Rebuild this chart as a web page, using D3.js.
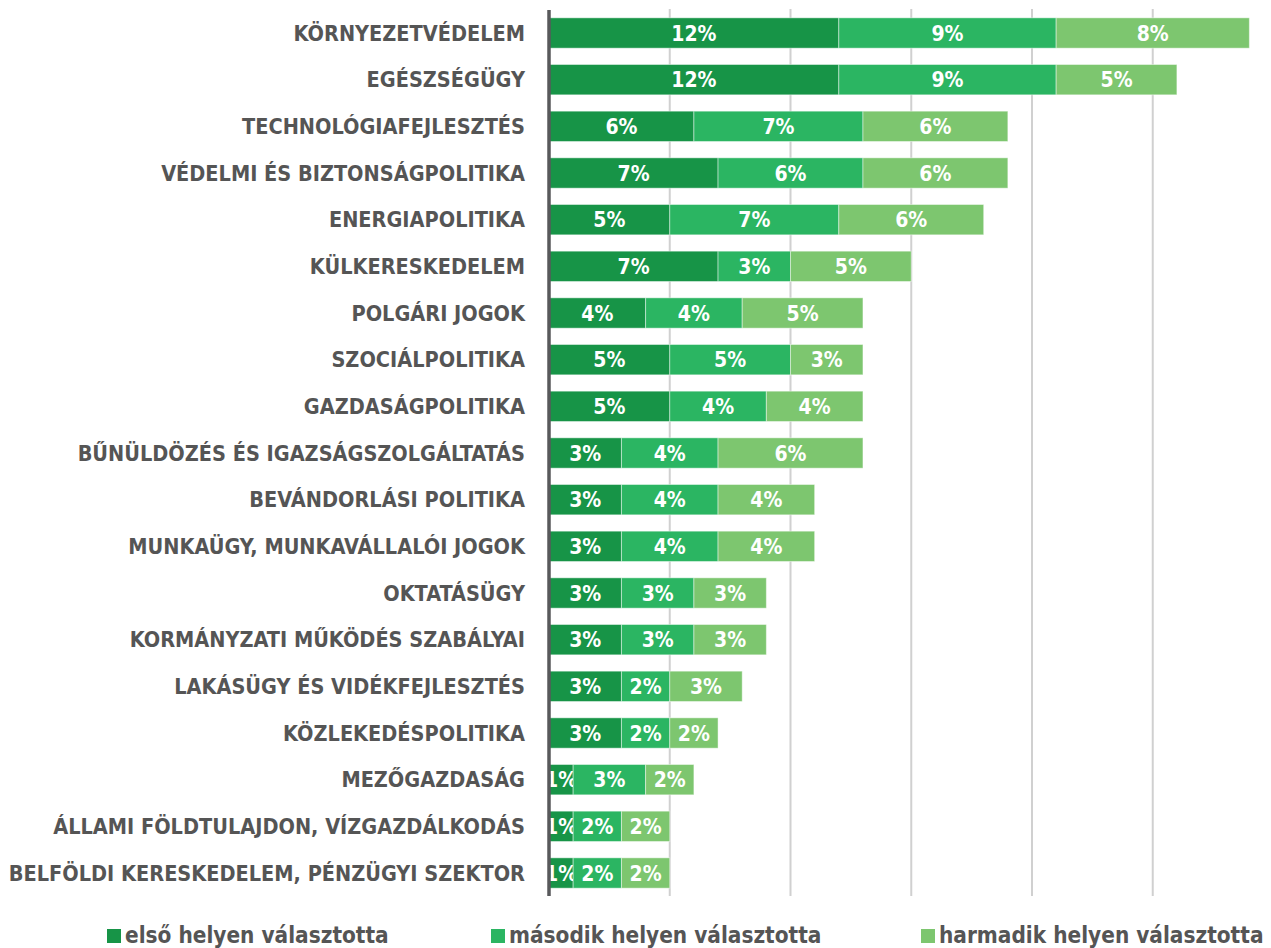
<!DOCTYPE html>
<html>
<head>
<meta charset="utf-8">
<script src="https://cdn.jsdelivr.net/npm/d3@7"></script>
<style>
  body { margin: 0; background: #fff; }
  svg { display: block; }
  text { font-family: "DejaVu Sans Condensed", "DejaVu Sans", sans-serif; font-weight: bold; }
</style>
</head>
<body>
<svg id="chart" width="1271" height="948"></svg>
<script>
// Categories, top to bottom
const categories = [
  'KÖRNYEZETVÉDELEM',
  'EGÉSZSÉGÜGY',
  'TECHNOLÓGIAFEJLESZTÉS',
  'VÉDELMI ÉS BIZTONSÁGPOLITIKA',
  'ENERGIAPOLITIKA',
  'KÜLKERESKEDELEM',
  'POLGÁRI JOGOK',
  'SZOCIÁLPOLITIKA',
  'GAZDASÁGPOLITIKA',
  'BŰNÜLDÖZÉS ÉS IGAZSÁGSZOLGÁLTATÁS',
  'BEVÁNDORLÁSI POLITIKA',
  'MUNKAÜGY, MUNKAVÁLLALÓI JOGOK',
  'OKTATÁSÜGY',
  'KORMÁNYZATI MŰKÖDÉS SZABÁLYAI',
  'LAKÁSÜGY ÉS VIDÉKFEJLESZTÉS',
  'KÖZLEKEDÉSPOLITIKA',
  'MEZŐGAZDASÁG',
  'ÁLLAMI FÖLDTULAJDON, VÍZGAZDÁLKODÁS',
  'BELFÖLDI KERESKEDELEM, PÉNZÜGYI SZEKTOR',
];

// Share (%) of respondents per rank
const first = [12, 12, 6, 7, 5, 7, 4, 5, 5, 3, 3, 3, 3, 3, 3, 3, 1, 1, 1];
const second = [9, 9, 7, 6, 7, 3, 4, 5, 4, 4, 4, 4, 3, 3, 2, 2, 3, 2, 2];
const third = [8, 5, 6, 6, 6, 5, 5, 3, 4, 6, 4, 4, 3, 3, 3, 2, 2, 2, 2];

const seriesNames = ['első helyen választotta', 'második helyen választotta', 'harmadik helyen választotta'];
const gridTicks = [5, 10, 15, 20, 25];

const colors = ['#179447', '#2bb562', '#7dc66f'];

const svg = d3.select('#chart');

const x = d3.scaleLinear().domain([0, 30]).range([549, 549 + 30 * 24.15]);
const y = d3.scaleBand().domain(categories).range([1.5, 904.5]).padding(0.35);

// Gridlines
svg.append('g')
  .selectAll('line')
  .data(gridTicks)
  .enter().append('line')
  .attr('x1', d => x(d))
  .attr('x2', d => x(d))
  .attr('y1', 9)
  .attr('y2', 896)
  .attr('stroke', '#d0d0d0')
  .attr('stroke-width', 2);

// Stack the data
const rows = categories.map((c, i) => ({ cat: c, s0: first[i], s1: second[i], s2: third[i] }));
const stacked = d3.stack().keys(['s0', 's1', 's2'])(rows);

const layers = svg.append('g')
  .selectAll('g')
  .data(stacked)
  .enter().append('g')
  .attr('fill', (d, i) => colors[i]);

layers.selectAll('rect')
  .data(d => d)
  .enter().append('rect')
  .attr('x', d => x(d[0]))
  .attr('y', d => y(d.data.cat))
  .attr('width', d => x(d[1]) - x(d[0]))
  .attr('height', y.bandwidth())
  .attr('stroke', 'rgba(255,255,255,0.45)')
  .attr('stroke-width', 1);

layers.selectAll('text')
  .data(d => d)
  .enter().append('text')
  .attr('x', d => (x(d[0]) + x(d[1])) / 2)
  .attr('y', d => y(d.data.cat) + y.bandwidth() / 2)
  .attr('dy', '0.36em')
  .attr('text-anchor', 'middle')
  .attr('fill', '#fff')
  .style('font-size', '21px')
  .text(d => `${d[1] - d[0]}%`);

// Vertical axis line
svg.append('line')
  .attr('x1', x(0))
  .attr('x2', x(0))
  .attr('y1', 10)
  .attr('y2', 896)
  .attr('stroke', '#58595b')
  .attr('stroke-width', 3.5);

// Category labels
svg.append('g')
  .selectAll('text')
  .data(categories)
  .enter().append('text')
  .attr('x', 525)
  .attr('y', d => y(d) + y.bandwidth() / 2)
  .attr('dy', '0.36em')
  .attr('text-anchor', 'end')
  .attr('fill', '#555')
  .style('font-size', '21.5px')
  .text(d => d);

// Legend
const legendX = [107, 491, 921];
const legend = svg.append('g')
  .selectAll('g')
  .data(seriesNames)
  .enter().append('g')
  .attr('transform', (d, i) => `translate(${legendX[i]}, 936)`);

legend.append('rect')
  .attr('x', 0)
  .attr('y', -7)
  .attr('width', 14)
  .attr('height', 14)
  .attr('fill', (d, i) => colors[i]);

legend.append('text')
  .attr('x', 18)
  .attr('dy', '0.3em')
  .attr('fill', '#555')
  .style('font-size', '22.4px')
  .text(d => d);
</script>
</body>
</html>
